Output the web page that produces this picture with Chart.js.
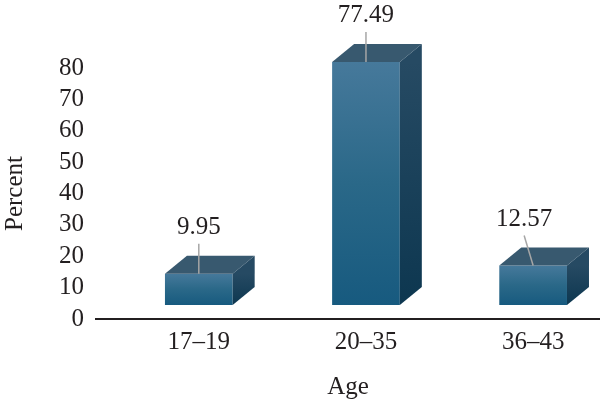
<!DOCTYPE html>
<html><head><meta charset="utf-8">
<script src="https://cdn.jsdelivr.net/npm/chart.js@4/dist/chart.umd.min.js"></script>
<style>html,body{margin:0;padding:0;background:#fff}#wrap{width:600px;height:409px}</style>
</head><body><div id="wrap"><canvas id="c"></canvas></div>
<script>
const categories = ['17–19', '20–35', '36–43'];
const percentValues = [9.95, 77.49, 12.57];
const yTickValues = [0, 10, 20, 30, 40, 50, 60, 70, 80];
const xAxisTitle = 'Age';
const yAxisTitle = 'Percent';

const FONT = '"Liberation Serif", "Times New Roman", serif';
const FS = 25;
const TEXT = '#231f20';
const DX = 22, DY = 18;

const bar3d = {
  id: 'bar3d',
  afterDatasetsDraw(chart) {
    const ctx = chart.ctx;
    const meta = chart.getDatasetMeta(0);
    meta.data.forEach((bar, i) => {
      const p = bar.getProps(['x', 'y', 'base', 'width'], true);
      const l = p.x - p.width / 2, r = p.x + p.width / 2, t = p.y, b = p.base;
      ctx.save();
      ctx.beginPath();
      ctx.moveTo(l, t); ctx.lineTo(r, t); ctx.lineTo(r + DX, t - DY); ctx.lineTo(l + DX, t - DY); ctx.closePath();
      ctx.fillStyle = '#38596f'; ctx.fill();
      const g = ctx.createLinearGradient(0, t, 0, b);
      g.addColorStop(0, '#264a63'); g.addColorStop(1, '#0d3750');
      ctx.beginPath();
      ctx.moveTo(r, t); ctx.lineTo(r + DX, t - DY); ctx.lineTo(r + DX, b - DY); ctx.lineTo(r, b); ctx.closePath();
      ctx.fillStyle = g; ctx.fill();
      const shift = i === 2 ? -9 : 0;
      ctx.strokeStyle = '#a6a6a6'; ctx.lineWidth = 1.5;
      ctx.beginPath(); ctx.moveTo(p.x, t); ctx.lineTo(p.x + shift, t - 30); ctx.stroke();
      ctx.fillStyle = TEXT; ctx.font = FS + 'px ' + FONT;
      ctx.textAlign = 'center'; ctx.textBaseline = 'middle';
      ctx.fillText(percentValues[i].toFixed(2), p.x + shift, t - 46);
      ctx.restore();
    });
  }
};

new Chart(document.getElementById('c'), {
  type: 'bar',
  data: {
    datasets: [{
      data: percentValues.map((v, i) => ({ x: i, y: v })),
      xAxisID: 'x', yAxisID: 'yb',
      barPercentage: 0.405, categoryPercentage: 1,
      clip: false,
      backgroundColor(c) {
        const chart = c.chart;
        const s = chart.scales.yb;
        if (!s || !c.raw) return '#2a6a90';
        const top = s.getPixelForValue(c.raw.y), base = s.getPixelForValue(0);
        if (!isFinite(top) || !isFinite(base) || top === base) return '#2a6a90';
        const g = chart.ctx.createLinearGradient(0, top, 0, base);
        g.addColorStop(0, '#46799b'); g.addColorStop(0.5, '#2a6888'); g.addColorStop(1, '#175a7f');
        return g;
      },
      borderWidth: 0
    }]
  },
  options: {
    responsive: true, maintainAspectRatio: false, animation: false,
    layout: { padding: { top: 68, right: 0, left: 0, bottom: 7 } },
    plugins: { legend: { display: false }, tooltip: { enabled: false } },
    scales: {
      x: {
        type: 'linear', offset: false, min: -0.615, max: 2.4,
        grid: { display: false, drawTicks: false, tickLength: 0 },
        border: { display: true, color: TEXT, width: 2 },
        ticks: {
          stepSize: 1, includeBounds: false, autoSkip: false, maxRotation: 0, padding: 8, color: TEXT,
          font: { family: FONT, size: FS },
          callback: v => (Number.isInteger(v) && categories[v] !== undefined) ? categories[v] : ''
        },
        title: { display: true, text: xAxisTitle, color: TEXT, font: { family: FONT, size: FS }, padding: { top: 7, bottom: 0 } }
      },
      y: {
        min: 0, max: 80,
        grid: { display: false, drawTicks: false, tickLength: 0 },
        border: { display: false },
        afterBuildTicks: s => { s.ticks = yTickValues.map(v => ({ value: v })); },
        ticks: { autoSkip: false, padding: 12, color: TEXT, font: { family: FONT, size: FS } },
        title: { display: true, text: yAxisTitle, color: TEXT, font: { family: FONT, size: FS }, padding: { top: 0, bottom: 17 } }
      },
      yb: { display: false, min: -4.46, max: 75.54 }
    }
  },
  plugins: [bar3d]
});
</script></body></html>
